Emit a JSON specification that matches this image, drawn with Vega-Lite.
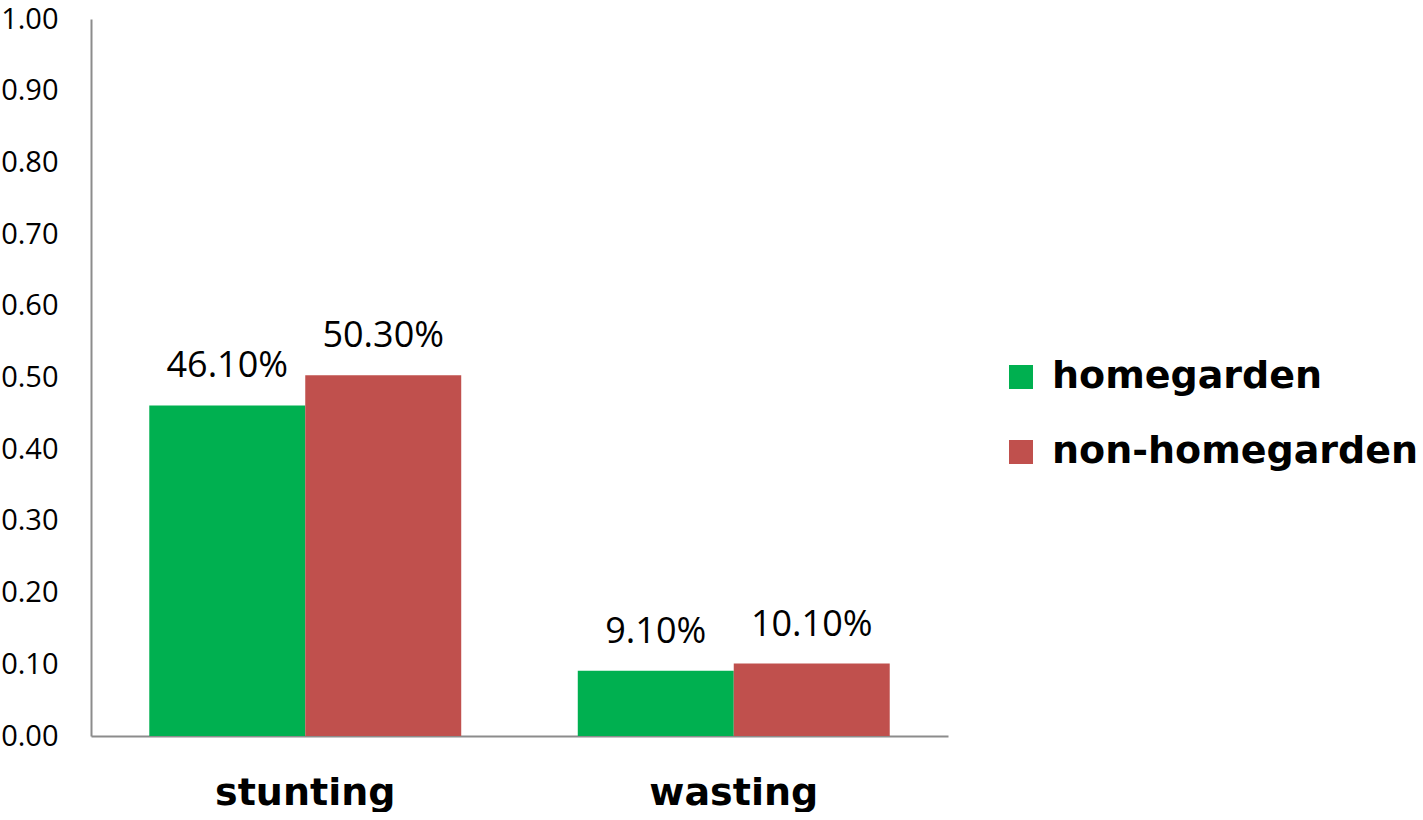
{
  "$schema": "https://vega.github.io/schema/vega-lite/v6.json",
  "width": 857,
  "height": 717,
  "padding": {"left": 0, "top": 5, "right": 0, "bottom": 0},
  "autosize": {"type": "pad"},
  "data": {
    "values": [
      {"indicator": "stunting", "group": "homegarden", "value": 0.461},
      {"indicator": "stunting", "group": "non-homegarden", "value": 0.503},
      {"indicator": "wasting", "group": "homegarden", "value": 0.091},
      {"indicator": "wasting", "group": "non-homegarden", "value": 0.101}
    ]
  },
  "encoding": {
    "x": {
      "field": "indicator",
      "type": "nominal",
      "sort": ["stunting", "wasting"],
      "scale": {"paddingInner": 0.272, "paddingOuter": 0.136},
      "axis": {
        "title": null,
        "labelAngle": 0,
        "labelFont": "DejaVu Sans",
        "labelFontWeight": "bold",
        "labelFontSize": 38,
        "labelColor": "black",
        "labelPadding": 38,
        "labelLimit": 400,
        "ticks": false,
        "domainColor": "#8c8c8c",
        "domainWidth": 2
      }
    },
    "xOffset": {"field": "group", "type": "nominal", "sort": ["homegarden", "non-homegarden"]},
    "y": {
      "field": "value",
      "type": "quantitative",
      "scale": {"domain": [0, 1]},
      "axis": {
        "title": null,
        "format": ".2f",
        "values": [0, 0.1, 0.2, 0.3, 0.4, 0.5, 0.6, 0.7, 0.8, 0.9, 1.0],
        "grid": false,
        "ticks": false,
        "labelFont": "Open Sans",
        "labelFontSize": 29,
        "labelColor": "black",
        "labelPadding": 33,
        "domainColor": "#8c8c8c",
        "domainWidth": 2
      }
    }
  },
  "layer": [
    {
      "mark": {"type": "bar"},
      "encoding": {
        "color": {
          "field": "group",
          "type": "nominal",
          "sort": ["homegarden", "non-homegarden"],
          "scale": {"domain": ["homegarden", "non-homegarden"], "range": ["#00B050", "#C0504D"]},
          "legend": {
            "title": null,
            "orient": "none",
            "legendX": 911,
            "legendY": 339,
            "symbolType": "square",
            "symbolSize": 576,
            "symbolStrokeWidth": 0,
            "labelFont": "DejaVu Sans",
            "labelFontWeight": "bold",
            "labelFontSize": 38,
            "labelColor": "black",
            "labelOffset": 12,
            "labelLimit": 500,
            "rowPadding": 37
          }
        }
      }
    },
    {
      "mark": {"type": "text", "baseline": "bottom", "dy": -20, "font": "Open Sans", "fontSize": 36, "color": "black"},
      "encoding": {"text": {"field": "value", "type": "quantitative", "format": ".2%"}}
    }
  ],
  "config": {"view": {"stroke": null}}
}
